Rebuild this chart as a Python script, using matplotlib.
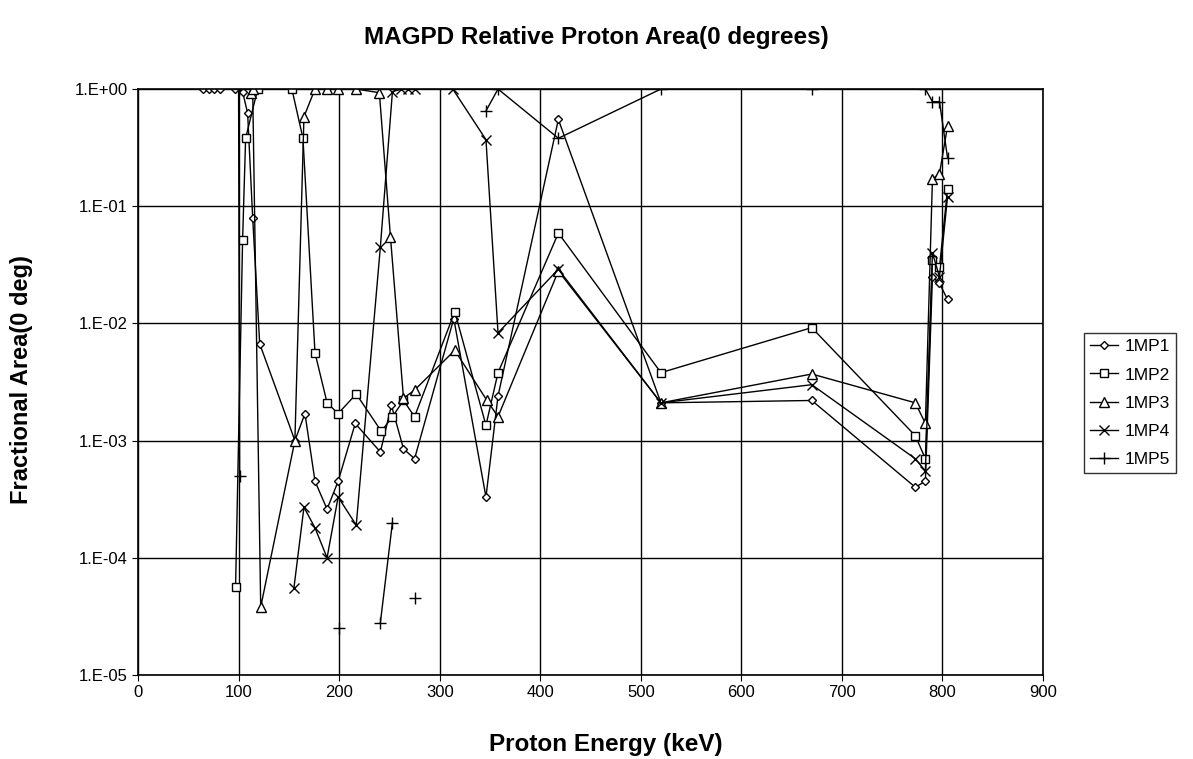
import numpy as np
import matplotlib
matplotlib.use("Agg")
import matplotlib.pyplot as plt
from matplotlib.ticker import FixedLocator, FixedFormatter

plt.rcParams['font.family'] = ['Liberation Sans', 'DejaVu Sans']

nan = np.nan

# 1MP1 (diamonds)
mp1_e = [65, 71, 76, 82, 96, 104, 109, 114, 121, 156, 166, 176, 188, 199, 216, 241, 252, 264, 275,
         314, 346, 358, 418, 520, 670, 773, 783, 790, 797, 805]
mp1_v = [1, 1, 1, 1, 1, 0.95, 0.62, 0.08, 0.0067, 0.001, 0.0017, 0.00045, 0.00026, 0.00045, 0.0014,
         0.0008, 0.002, 0.00085, 0.0007, 0.011, 0.00033, 0.0024, 0.55, 0.0021, 0.0022, 0.0004,
         0.00045, 0.025, 0.022, 0.016]

# 1MP2 (squares)
mp2_e = [97, 104, 107, 119, 153, 164, 176, 188, 199, 217, 242, 253, 264, 275, 315, 346, 358, 418,
         520, 670, 773, 783, 790, 797, 805]
mp2_v = [5.6e-5, 0.052, 0.38, 1.0, 1.0, 0.38, 0.0056, 0.0021, 0.0017, 0.0025, 0.0012, 0.0016,
         0.0022, 0.0016, 0.0126, 0.00135, 0.0038, 0.059, 0.0038, 0.0092, 0.0011, 0.0007, 0.035,
         0.03, 0.14]

# 1MP3 (triangles)
mp3_e = [112, 114, 122, 156, 165, 176, 188, 199, 217, 240, 251, 264, 275, 315, 347, 358, 418, 520,
         670, 773, 783, 790, 797, 805]
mp3_v = [0.93, 1.0, 3.8e-5, 0.001, 0.58, 1.0, 1.0, 1.0, 1.0, 0.93, 0.055, 0.0023, 0.0027, 0.0059,
         0.0022, 0.0016, 0.028, 0.0021, 0.0037, 0.0021, 0.0014, 0.17, 0.19, 0.48]

# 1MP4 (crosses)
mp4_e = [155, 165, 176, 188, 199, 217, 241, 253, 262, 268, 275, 313, 346, 358, 418, 520, 670, 773,
         783, 790, 797, 805]
mp4_v = [5.5e-5, 0.00027, 0.00018, 0.0001, 0.00033, 0.00019, 0.045, 0.95, 1.0, 1.0, 1.0, 1.0, 0.37,
         0.0083, 0.029, 0.0021, 0.003, 0.0007, 0.00055, 0.04, 0.025, 0.12]

# 1MP5 (plus), nan = gap in the series
mp5_e = [100, 101, 150, 200, 220, 241, 253, 264, 275, 300, 346, 358, 418, 520, 670, 783, 790, 797, 805]
mp5_v = [1.0, 0.0005, nan, 2.5e-5, nan, 2.8e-5, 2e-4, nan, 4.5e-5, nan, 0.65, 1.0, 0.38, 1.0, 1.0,
         1.0, 0.78, 0.78, 0.26]

series = [
    ('1MP1', mp1_e, mp1_v, 'D', 4.5),
    ('1MP2', mp2_e, mp2_v, 's', 6),
    ('1MP3', mp3_e, mp3_v, '^', 7),
    ('1MP4', mp4_e, mp4_v, 'x', 7),
    ('1MP5', mp5_e, mp5_v, '+', 8),
]

y_ticks = [1, 1e-1, 1e-2, 1e-3, 1e-4, 1e-5]
y_labels = ['1.E+00', '1.E-01', '1.E-02', '1.E-03', '1.E-04', '1.E-05']

fig = plt.figure(figsize=(11.93, 7.59), dpi=100)
ax = fig.add_axes([0.1157, 0.1107, 0.7586, 0.772])

for name, e, v, m, ms in series:
    mfc = 'white' if m in ('D', 's', '^') else 'black'
    ax.plot(e, v, color='black', lw=1.0, marker=m, ms=ms,
            mfc=mfc, mec='black', mew=1.0, label=name)

ax.set_yscale('log')
ax.set_ylim(1e-5, 1)
ax.set_xlim(0, 900)
ax.xaxis.set_major_locator(FixedLocator(range(0, 901, 100)))
ax.yaxis.set_major_locator(FixedLocator(y_ticks))
ax.yaxis.set_major_formatter(FixedFormatter(y_labels))
ax.yaxis.set_minor_locator(FixedLocator([]))
ax.grid(True, which='major', color='black', lw=1.0)
ax.tick_params(labelsize=12, length=4, color='black', direction='out')
for s in ax.spines.values():
    s.set_color('black')
    s.set_linewidth(1.2)

fig.text(0.508, 0.019, 'Proton Energy (keV)', fontsize=17.5, fontweight='bold',
         ha='center', va='center')
fig.text(0.018, 0.5, 'Fractional Area(0 deg)', fontsize=17, fontweight='bold',
         ha='center', va='center', rotation=90)
fig.text(0.5, 0.95, 'MAGPD Relative Proton Area(0 degrees)', fontsize=17.5, fontweight='bold',
         ha='center', va='center')

leg = ax.legend(loc='center left', bbox_to_anchor=(1.045, 0.464), fontsize=12.5, frameon=True,
                fancybox=False, edgecolor='black', borderpad=0.35, labelspacing=0.75,
                handlelength=1.6, handletextpad=0.4, borderaxespad=0)
leg.get_frame().set_linewidth(1.0)

fig.savefig('out.png', dpi=100)
